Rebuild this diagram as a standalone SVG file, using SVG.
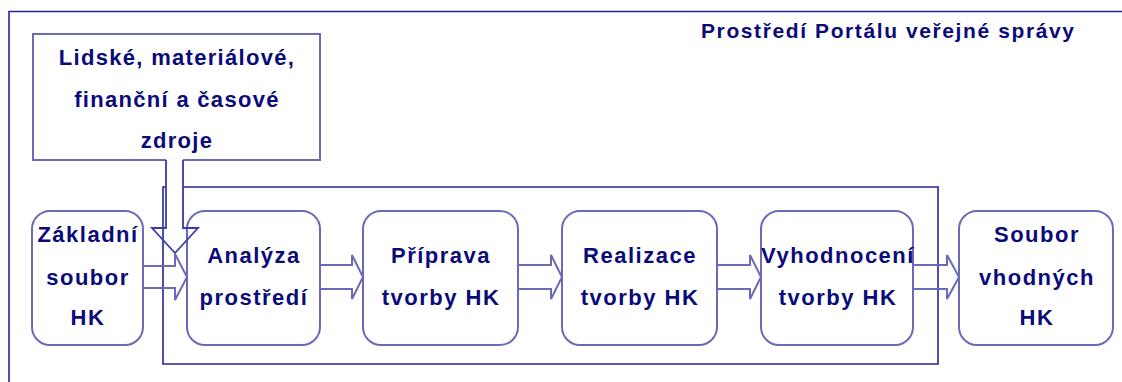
<svg xmlns="http://www.w3.org/2000/svg" width="1122" height="382" viewBox="0 0 1122 382">
<style>
  .t{font-family:"Liberation Sans",Arial,sans-serif;font-weight:bold;font-size:22px;fill:#0a0a7a;text-anchor:middle;letter-spacing:1.5px}
  .title{font-family:"Liberation Sans",Arial,sans-serif;font-weight:bold;font-size:21px;fill:#0a0a7a;letter-spacing:1.6px}
  .res{letter-spacing:1.3px}
  .node{fill:#fff;stroke:#6a6ab8;stroke-width:2}
  .frame{fill:none;stroke:#2323a0;stroke-width:1.6}
  .blk{fill:none;stroke:#6a6ab8;stroke-width:2;stroke-linejoin:miter}
  .down{fill:none;stroke:#3a3aa8;stroke-width:1.8}
</style>
<rect width="1122" height="382" fill="#fff"/>
<g id="environment">
  <path class="frame" d="M9,382 V11.5 H1122"/>
  <text class="title" x="701" y="38">Prostředí Portálu veřejné správy</text>
</g>
<g id="process-frame">
  <path class="frame" d="M183,187 H938 V364 H163 V187 H166"/>
</g>
<g id="resources">
  <path class="node" d="M166,160 H33 V34 H320 V160 H183"/>
  <text class="t res" x="177" y="65">Lidské, materiálové,</text>
  <text class="t res" x="177" y="107">finanční a časové</text>
  <text class="t res" x="177" y="148">zdroje</text>
</g>
<g id="zakladni">
  <rect class="node" x="32" y="211" width="111" height="134" rx="18"/>
  <text class="t" x="88" y="242">Základní</text>
  <text class="t" x="88" y="285">soubor</text>
  <text class="t" x="88" y="325">HK</text>
</g>
<g id="analyza">
  <rect class="node" x="187" y="211" width="133" height="134" rx="18"/>
  <text class="t" x="254" y="263">Analýza</text>
  <text class="t" x="254" y="305">prostředí</text>
</g>
<g id="priprava">
  <rect class="node" x="363" y="211" width="155" height="134" rx="18"/>
  <text class="t" x="441" y="263">Příprava</text>
  <text class="t" x="441" y="305">tvorby HK</text>
</g>
<g id="realizace">
  <rect class="node" x="562" y="211" width="155" height="134" rx="18"/>
  <text class="t" x="640" y="263">Realizace</text>
  <text class="t" x="640" y="305">tvorby HK</text>
</g>
<g id="vyhodnoceni">
  <rect class="node" x="761" y="211" width="152" height="134" rx="18"/>
  <text class="t" x="838" y="263">Vyhodnocení</text>
  <text class="t" x="838" y="305">tvorby HK</text>
</g>
<g id="soubor">
  <rect class="node" x="959" y="211" width="154" height="134" rx="18"/>
  <text class="t" x="1037" y="242">Soubor</text>
  <text class="t" x="1037" y="285">vhodných</text>
  <text class="t" x="1037" y="325">HK</text>
</g>
<g id="connectors">
  <path class="blk" d="M143,266 H175 V254 L187,277 L175,300 V288 H143"/>
  <path class="blk" d="M320,265 H352 V255 L363,277 L352,299 V289 H320"/>
  <path class="blk" d="M518,265 H551 V255 L562,277 L551,299 V289 H518"/>
  <path class="blk" d="M717,265 H750 V255 L761,277 L750,299 V289 H717"/>
  <path class="blk" d="M913,265 H947 V255 L959,277 L947,299 V289 H913"/>
  <path class="down" d="M166,160 V228 H152 L175,253 L198,228 H183 V160"/>
</g>
</svg>
